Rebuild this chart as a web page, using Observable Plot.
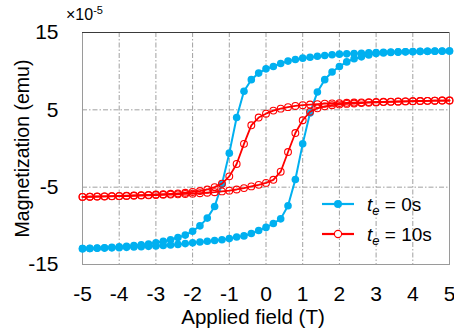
<!DOCTYPE html>
<html><head><meta charset="utf-8">
<script src="https://cdn.jsdelivr.net/npm/d3@7"></script>
<script src="https://cdn.jsdelivr.net/npm/@observablehq/plot@0.6"></script>
<style>
html,body{margin:0;padding:0;background:#fff;}
#wrap{position:relative;width:454px;height:331px;font-family:"Liberation Sans",Arial,sans-serif;color:#000;overflow:hidden;}
#wrap svg{display:block;}
.mult{position:absolute;left:66px;top:7px;font-size:16px;line-height:1;}
.mult sup{font-size:11px;vertical-align:6px;line-height:0;}
.legend{position:absolute;left:320px;top:189px;font-size:19px;line-height:1;}
.legend .row{position:relative;height:30px;display:flex;align-items:center;}
.legend svg{width:40px;height:14px;margin-right:7px;}
.legend sub{font-size:13px;vertical-align:-4px;line-height:0;}
</style></head><body><div id="wrap"></div>
<script>
// Applied field (T), sweep 5 -> -5 and -5 -> 5
const fieldDown = [5,4.8,4.6,4.4,4.2,4,3.8,3.6,3.4,3.2,3,2.8,2.6,2.4,2.2,2,1.8,1.6,1.4,1.2,1,0.8,0.6,0.4,0.2,0,-0.2,-0.4,-0.6,-0.8,-1,-1.2,-1.4,-1.6,-1.8,-2,-2.2,-2.4,-2.6,-2.8,-3,-3.2,-3.4,-3.6,-3.8,-4,-4.2,-4.4,-4.6,-4.8,-5];
const fieldUp = [-5,-4.8,-4.6,-4.4,-4.2,-4,-3.8,-3.6,-3.4,-3.2,-3,-2.8,-2.6,-2.4,-2.2,-2,-1.8,-1.6,-1.4,-1.2,-1,-0.8,-0.6,-0.4,-0.2,0,0.2,0.4,0.6,0.8,1,1.2,1.4,1.6,1.8,2,2.2,2.4,2.6,2.8,3,3.2,3.4,3.6,3.8,4,4.2,4.4,4.6,4.8,5];
// Magnetization (x1e-5 emu), te = 0s
const m0Down = [12.6,12.6,12.59,12.58,12.56,12.54,12.52,12.5,12.47,12.44,12.4,12.36,12.32,12.28,12.24,12.2,12.12,12.03,11.92,11.8,11.68,11.5,11.3,11.0,10.6,10.3,9.75,8.9,7.4,4.0,-0.6,-4.6,-7.5,-9.0,-10.0,-10.7,-11.2,-11.5,-11.8,-12.0,-12.2,-12.35,-12.45,-12.55,-12.65,-12.72,-12.78,-12.83,-12.88,-12.92,-12.95];
const m0Up = [-12.95,-12.93,-12.9,-12.88,-12.85,-12.82,-12.78,-12.74,-12.7,-12.65,-12.6,-12.55,-12.48,-12.4,-12.3,-12.2,-12.1,-12.0,-11.9,-11.8,-11.65,-11.45,-11.3,-11.0,-10.6,-10.2,-9.7,-9.1,-7.4,-4.0,0.6,4.6,7.3,8.9,9.9,10.6,11.2,11.6,11.85,12.1,12.3,12.36,12.42,12.46,12.5,12.52,12.54,12.56,12.57,12.58,12.6];
// Magnetization (x1e-5 emu), te = 10s
const m10Down = [6.21,6.2,6.18,6.16,6.14,6.12,6.1,6.08,6.06,6.04,6.02,6.0,5.97,5.94,5.91,5.87,5.83,5.79,5.74,5.68,5.6,5.5,5.35,5.15,4.9,4.5,4.0,3.0,0.6,-2.0,-3.6,-4.55,-5.0,-5.3,-5.5,-5.62,-5.72,-5.8,-5.86,-5.9,-5.95,-6.0,-6.03,-6.06,-6.1,-6.13,-6.16,-6.19,-6.21,-6.23,-6.25];
const m10Up = [-6.26,-6.24,-6.22,-6.2,-6.18,-6.16,-6.14,-6.11,-6.08,-6.05,-6.02,-5.99,-5.96,-5.92,-5.88,-5.84,-5.78,-5.72,-5.65,-5.55,-5.45,-5.3,-5.12,-4.9,-4.7,-4.45,-4.05,-3.0,-0.45,2.0,3.65,4.75,5.2,5.45,5.6,5.7,5.77,5.82,5.87,5.92,5.96,6.0,6.03,6.06,6.09,6.11,6.14,6.16,6.18,6.2,6.21];
const xTicks = [-5,-4,-3,-2,-1,0,1,2,3,4,5];
const yTicks = [-15,-5,5,15];
const xGrid = [-4,-3,-2,-1,0,1,2,3,4];
const yGrid = [-5,5];
const seriesNames = ["0s","10s"];
const colors = ["#00b0f0","#ff0000"];
const xLabel = "Applied field (T)";
const yLabel = "Magnetization (emu)";

function rows(down, up, name) {
  const r = [];
  fieldDown.forEach((f,i)=>r.push({field:f, m:down[i], series:name, branch:"down"}));
  fieldUp.forEach((f,i)=>r.push({field:f, m:up[i], series:name, branch:"up"}));
  return r;
}
const blue = rows(m0Down, m0Up, seriesNames[0]);
const red = rows(m10Down, m10Up, seriesNames[1]);

const chart = Plot.plot({
  width: 454, height: 331,
  marginLeft: 82, marginRight: 5, marginTop: 32, marginBottom: 67,
  style: {fontFamily: '"Liberation Sans", Arial, sans-serif', fontSize: "20px", color: "#000", background: "#fff"},
  x: {domain: [-5,5]},
  y: {domain: [-15,15]},
  marks: [
    Plot.ruleX(xGrid, {stroke: "#a0a0a0", strokeDasharray: "5,2,1.5,2", strokeWidth: 1}),
    Plot.ruleY(yGrid, {stroke: "#a0a0a0", strokeDasharray: "5,2,1.5,2", strokeWidth: 1}),
    Plot.frame({stroke: "#9a9a9a"}),
    Plot.ruleY([15], {stroke: "#3a3a3a"}),
    Plot.axisX({ticks: xTicks, tickSize: 0, tickPadding: 22, tickFormat: d => String(d), label: null, fontSize: 21}),
    Plot.axisY({ticks: yTicks, tickSize: 0, tickPadding: 24, tickFormat: d => String(d), label: null, fontSize: 21}),
    Plot.line(blue, {x: "field", y: "m", z: "branch", stroke: colors[0], strokeWidth: 2}),
    Plot.dot(blue, {x: "field", y: "m", r: 3.8, fill: colors[0]}),
    Plot.line(red, {x: "field", y: "m", z: "branch", stroke: colors[1], strokeWidth: 1.8}),
    Plot.dot(red, {x: "field", y: "m", r: 3.4, stroke: colors[1], strokeWidth: 1.1, fill: "none"}),
    Plot.text([xLabel], {frameAnchor: "bottom", dy: 59, dx: -13, fontSize: 20.5}),
    Plot.text([yLabel], {frameAnchor: "left", textAnchor: "middle", dx: -60, rotate: -90, fontSize: 19.5})
  ]
});
const wrap = document.getElementById("wrap");
wrap.appendChild(chart);

const mult = document.createElement("div");
mult.className = "mult";
mult.innerHTML = "×10<sup>-5</sup>";
wrap.appendChild(mult);

const leg = document.createElement("div");
leg.className = "legend";
leg.innerHTML = seriesNames.map((n,i) => `<div class="row"><svg viewBox="0 0 40 14"><line x1="2" x2="34" y1="7" y2="7" stroke="${colors[i]}" stroke-width="2.2"/>${i===0?`<circle cx="18" cy="7" r="4" fill="${colors[i]}"/>`:`<circle cx="18" cy="7" r="3.6" fill="#fff" stroke="${colors[i]}" stroke-width="1.1"/>`}</svg><span><i>t</i><sub><i>e</i></sub> = ${n}</span></div>`).join("");
wrap.appendChild(leg);
</script>
</body></html>
